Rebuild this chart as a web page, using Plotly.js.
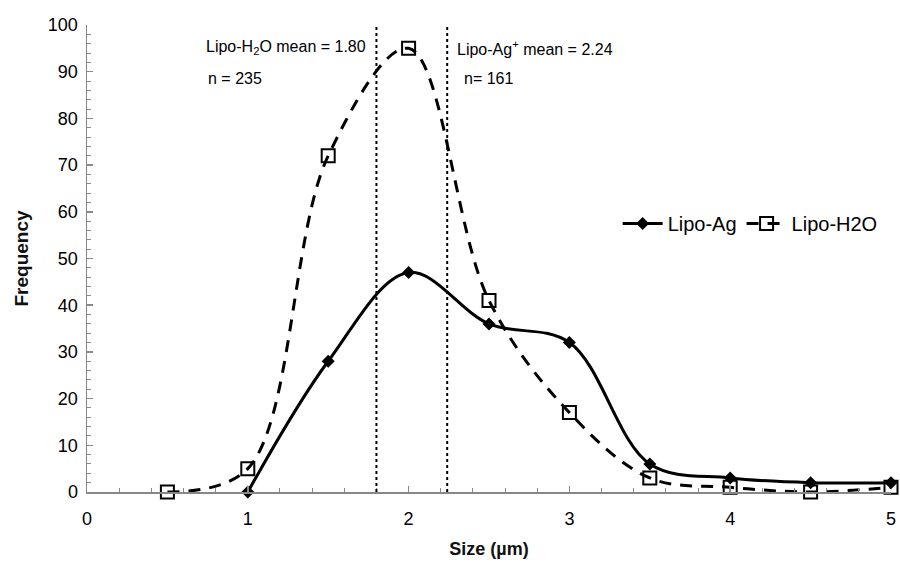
<!DOCTYPE html>
<html>
<head>
<meta charset="utf-8">
<script src="https://cdn.plot.ly/plotly-3.0.1.min.js"></script>
<style>body{margin:0;background:#fff}#chart{width:900px;height:564px}</style>
</head>
<body>
<div id="chart"></div>
<script>
// Data
const sizeAg = [1, 1.5, 2, 2.5, 3, 3.5, 4, 4.5, 5];
const freqAg = [0, 28, 47, 36, 32, 6, 3, 2, 2];
const sizeH2O = [0.5, 1, 1.5, 2, 2.5, 3, 3.5, 4, 4.5, 5];
const freqH2O = [0, 5, 72, 95, 41, 17, 3, 1, 0, 1];
const meanH2O = 1.80;
const meanAg = 2.24;
const nH2O = 235;
const nAg = 161;

const font = "Liberation Sans, Arial, sans-serif";

const traces = [
  {
    x: sizeAg, y: freqAg, name: "Lipo-Ag", type: "scatter", mode: "lines+markers",
    line: {color: "#000", width: 3, shape: "spline", smoothing: 1},
    marker: {symbol: "diamond", size: 10, color: "#000"},
    cliponaxis: false
  },
  {
    x: sizeH2O, y: freqH2O, name: "Lipo-H2O", type: "scatter", mode: "lines+markers",
    line: {color: "#000", width: 3, shape: "spline", smoothing: 1, dash: "12px,9px"},
    marker: {symbol: "square-open", size: 13, color: "#000", line: {width: 2, color: "#000"}},
    cliponaxis: false
  }
];

const layout = {
  width: 900, height: 564,
  margin: {l: 87, r: 9, t: 25, b: 72},
  paper_bgcolor: "#fff", plot_bgcolor: "#fff",
  font: {family: font, color: "#111", size: 16},
  showlegend: true,
  legend: {orientation: "h", x: 0.66, y: 0.575, xanchor: "left", yanchor: "middle",
           font: {size: 20, color: "#000"}, bgcolor: "rgba(0,0,0,0)", itemwidth: 40},
  xaxis: {
    range: [0, 5], dtick: 1, showgrid: false, zeroline: false,
    showline: true, linecolor: "#888", linewidth: 1.5,
    ticks: "inside", ticklen: 6, tickcolor: "#888", tickwidth: 1.5,
    minor: {dtick: 0.2, ticks: "inside", ticklen: 4, tickcolor: "#888", tickwidth: 1},
    tickfont: {size: 18, color: "#000"}, ticklabelstandoff: 10,
    title: {text: "<b>Size (µm)</b>", font: {size: 18, color: "#111"}, standoff: 14}
  },
  yaxis: {
    range: [0, 100], dtick: 10, showgrid: false, zeroline: false,
    showline: true, linecolor: "#888", linewidth: 1.5,
    ticks: "inside", ticklen: 6, tickcolor: "#888", tickwidth: 1.5,
    minor: {dtick: 2, ticks: "inside", ticklen: 4, tickcolor: "#888", tickwidth: 1},
    tickfont: {size: 18, color: "#000"}, ticklabelstandoff: 4,
    title: {text: "<b>Frequency</b>", font: {size: 19, color: "#111"}, standoff: 14}
  },
  shapes: [meanH2O, meanAg].map(m => ({
    type: "line", xref: "x", yref: "y", x0: m, x1: m, y0: 0, y1: 100,
    line: {color: "#000", width: 2, dash: "dot"}
  })),
  annotations: [
    {xref: "x", yref: "paper", x: meanH2O, y: 0.976, xanchor: "right", xshift: -8, showarrow: false,
     text: "Lipo-H<sub>2</sub>O mean = " + meanH2O.toFixed(2), font: {size: 16, color: "#000"}},
    {xref: "x", yref: "paper", x: 0.74, y: 0.908, xanchor: "left", showarrow: false,
     text: "n = " + nH2O, font: {size: 16, color: "#000"}},
    {xref: "x", yref: "paper", x: meanAg, y: 0.976, xanchor: "left", xshift: 8, showarrow: false,
     text: "Lipo-Ag<sup>+</sup> mean = " + meanAg.toFixed(2), font: {size: 16, color: "#000"}},
    {xref: "x", yref: "paper", x: 2.33, y: 0.908, xanchor: "left", showarrow: false,
     text: "n= " + nAg, font: {size: 16, color: "#000"}}
  ]
};

Plotly.newPlot("chart", traces, layout, {displayModeBar: false, staticPlot: true});
</script>
</body>
</html>
